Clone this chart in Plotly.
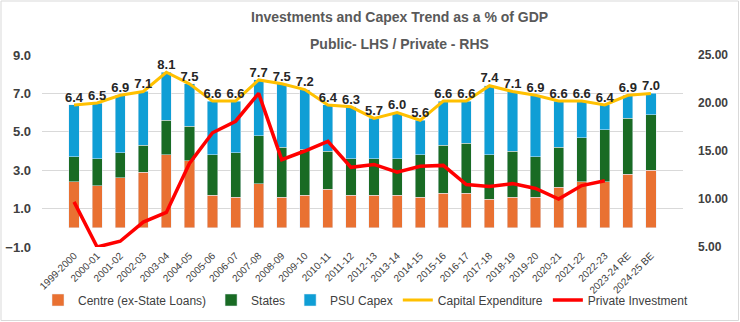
import plotly.graph_objects as go

years = ["1999-2000", "2000-01", "2001-02", "2002-03", "2003-04", "2004-05", "2005-06",
         "2006-07", "2007-08", "2008-09", "2009-10", "2010-11", "2011-12", "2012-13",
         "2013-14", "2014-15", "2015-16", "2016-17", "2017-18", "2018-19", "2019-20",
         "2020-21", "2021-22", "2022-23", "2023-24 RE", "2024-25 BE"]

centre = [2.4, 2.2, 2.6, 2.9, 3.8, 3.5, 1.7, 1.6, 2.3, 1.6, 1.7, 2.0, 1.7, 1.7, 1.7, 1.6,
          1.8, 1.8, 1.5, 1.6, 1.6, 2.1, 2.4, 2.4, 2.8, 3.0]
states = [1.3, 1.4, 1.3, 1.4, 1.8, 1.8, 2.1, 2.3, 2.5, 2.6, 2.4, 2.0, 1.9, 1.9, 1.9, 2.2,
          2.5, 2.6, 2.3, 2.4, 2.1, 2.1, 2.3, 2.7, 2.9, 2.9]
psu = [2.7, 2.9, 3.0, 2.8, 2.5, 2.2, 2.8, 2.7, 2.9, 3.3, 3.1, 2.4, 2.7, 2.1, 2.4, 1.8,
       2.3, 2.2, 3.6, 3.1, 3.2, 2.4, 1.9, 1.3, 1.2, 1.1]
capex = [6.4, 6.5, 6.9, 7.1, 8.1, 7.5, 6.6, 6.6, 7.7, 7.5, 7.2, 6.4, 6.3, 5.7, 6.0, 5.6,
         6.6, 6.6, 7.4, 7.1, 6.9, 6.6, 6.6, 6.4, 6.9, 7.0]
private = [9.7, 5.0, 5.6, 7.6, 8.6, 13.7, 16.9, 18.1, 21.0, 14.1, 15.0, 16.0, 13.3, 13.6,
           12.8, 13.4, 13.5, 11.5, 11.3, 11.6, 11.1, 10.0, 11.4, 11.9, None, None]

title_lines = ["Investments and Capex Trend as a % of GDP", "Public- LHS / Private - RHS"]

W, H = 740, 322
ML, MR, MT, MB = 42, 57, 55, 75
PW, PH = W - ML - MR, H - MT - MB

FONT = "Liberation Sans, Arial, sans-serif"
TXT = "#404040"


def py(pixel_y):
    """Paper y coordinate for a pixel row of the figure."""
    return (H - MB - pixel_y) / PH


def px(pixel_x):
    """Paper x coordinate for a pixel column of the figure."""
    return (pixel_x - ML) / PW


fig = go.Figure()
fig.add_bar(x=years, y=centre, name="Centre (ex-State Loans)", marker_color="#E97132")
fig.add_bar(x=years, y=states, name="States", marker_color="#196B24")
fig.add_bar(x=years, y=psu, name="PSU Capex", marker_color="#0F9ED5")
fig.add_scatter(x=years, y=capex, name="Capital Expenditure", mode="lines+text",
                line=dict(color="#FFC000", width=3),
                text=[f"{v:.1f}" for v in capex], textposition="top center",
                textfont=dict(family=FONT, size=13, color="#262626", weight="bold"))
fig.add_scatter(x=years, y=private, name="Private Investment", mode="lines",
                line=dict(color="#FF0000", width=3.5), yaxis="y2")

annotations = [
    dict(text=t, x=px(399), y=py(yy), xref="paper", yref="paper", showarrow=False,
         xanchor="center", yanchor="middle",
         font=dict(family=FONT, size=14, color="#595959", weight="bold"))
    for t, yy in zip(title_lines, [17, 44])
]

fig.update_layout(
    width=W, height=H,
    margin=dict(l=ML, r=MR, t=MT, b=MB, autoexpand=False),
    paper_bgcolor="white", plot_bgcolor="white",
    barmode="stack", bargap=0.56,
    font=dict(family=FONT, color=TXT),
    annotations=annotations,
    xaxis=dict(type="category", tickangle=-45, tickfont=dict(size=10, color=TXT),
               showgrid=False, showline=False, ticks=""),
    yaxis=dict(range=[-1, 9], dtick=2, tick0=-1, tickformat=".1f", showgrid=True,
               gridcolor="#D9D9D9", gridwidth=1, zeroline=False, showline=False,
               tickfont=dict(size=13, color=TXT, weight="bold"), ticklabelstandoff=10),
    yaxis2=dict(range=[5, 25], dtick=5, tick0=5, tickformat=".2f", overlaying="y",
                side="right", showgrid=False, zeroline=False, showline=False,
                tickfont=dict(size=12, color=TXT, weight="bold"), ticklabelstandoff=14),
    legend=dict(orientation="h", x=px(38), xanchor="left", y=py(300),
                yanchor="middle", font=dict(size=12, color=TXT), traceorder="normal",
                itemwidth=30, tracegroupgap=0, bgcolor="rgba(0,0,0,0)"),
    showlegend=True,
    shapes=[dict(type="rect", xref="paper", yref="paper",
                 x0=px(1), x1=px(W - 1.5), y0=py(H - 1.5), y1=py(1),
                 line=dict(color="#D9D9D9", width=1), fillcolor="rgba(0,0,0,0)",
                 layer="below")],
)

fig.write_html("out.html")
